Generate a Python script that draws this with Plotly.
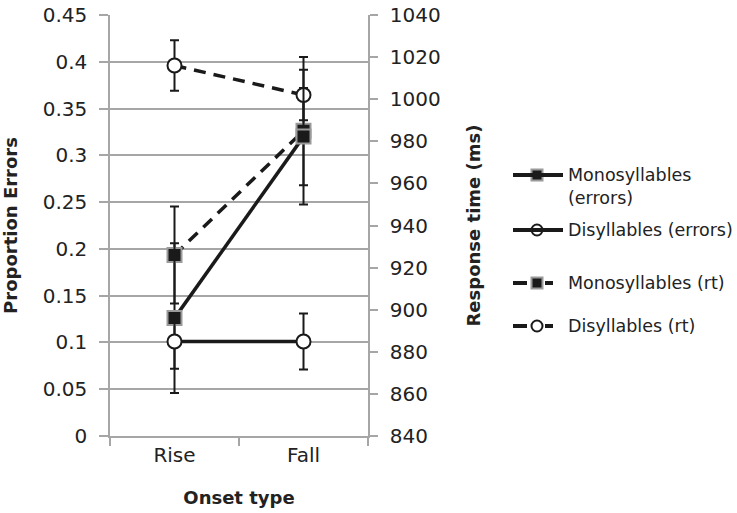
import plotly.graph_objects as go

categories = ["Rise", "Fall"]

mono_err = [0.126, 0.320]
mono_err_ci = [0.080, 0.052]
di_err = [0.101, 0.101]
di_err_ci = [0.029, 0.030]

mono_rt = [926, 985]
mono_rt_ci = [23, 35]
di_rt = [1016, 1002]
di_rt_ci = [12, 12]

legend_labels = ["Monosyllables<br>(errors)", "Disyllables (errors)", "Monosyllables (rt)", "Disyllables (rt)"]

FONT = "DejaVu Sans"
TXT = "#222222"
GRID = "#a6a6a6"
INK = "#1a1a1a"

# geometry in pixels
W, H = 737, 513
L, T, B = 110, 15, 436          # plot area left / top / bottom
R = 368                          # plot area right edge (right y axis)
PR = 727                         # paper right edge
PW = PR - L

sq_marker = dict(symbol="square", size=14, color=INK, line=dict(color="#9a9a9a", width=2))
ci_marker = dict(symbol="circle", size=14, color="white", line=dict(color=INK, width=2))

def ebar(vals):
    return dict(type="data", array=vals, visible=True, color=INK, thickness=2, width=4.5)

fig = go.Figure()

fig.add_trace(go.Scatter(x=categories, y=mono_err, name=legend_labels[0], yaxis="y2",
                         mode="lines+markers", line=dict(color=INK, width=3.5),
                         marker=sq_marker, error_y=ebar(mono_err_ci), showlegend=False))
fig.add_trace(go.Scatter(x=categories, y=di_err, name=legend_labels[1], yaxis="y2",
                         mode="lines+markers", line=dict(color=INK, width=3.5),
                         marker=ci_marker, error_y=ebar(di_err_ci), showlegend=False))
fig.add_trace(go.Scatter(x=categories, y=mono_rt, name=legend_labels[2], yaxis="y",
                         mode="lines+markers", line=dict(color=INK, width=3.5, dash="12px,8px"),
                         marker=sq_marker, error_y=ebar(mono_rt_ci), showlegend=False))
fig.add_trace(go.Scatter(x=categories, y=di_rt, name=legend_labels[3], yaxis="y",
                         mode="lines+markers", line=dict(color=INK, width=3.5, dash="12px,8px"),
                         marker=ci_marker, error_y=ebar(di_rt_ci), showlegend=False))

# ---- hand-built legend (pixel-based helper axes x3/y3 spanning the whole paper) ----
leg_y = [175, 230, 283, 326]          # pixel rows of legend symbols
leg_dashed = [False, False, True, True]
leg_square = [True, False, True, False]
SYM_X0, SYM_X1, MARK_X, TEXT_X = 513, 563, 537, 566

def px2paper_x(px):
    return (px - L) / PW

def px2paper_y(py):
    return (B - py) / (B - T)

shapes = []
for yy, dashed in zip(leg_y, leg_dashed):
    if dashed:
        segs = [(SYM_X0, MARK_X - 10), (MARK_X + 8, MARK_X + 16)]
    else:
        segs = [(SYM_X0, SYM_X1)]
    for a, b in segs:
        shapes.append(dict(type="line", xref="paper", yref="paper",
                           x0=px2paper_x(a), x1=px2paper_x(b), y0=px2paper_y(yy), y1=px2paper_y(yy),
                           line=dict(color=INK, width=4)))

for yy, sq in zip(leg_y, leg_square):
    m = dict(sq_marker) if sq else dict(ci_marker)
    m["size"] = 11
    fig.add_trace(go.Scatter(x=[MARK_X], y=[yy], xaxis="x3", yaxis="y3", mode="markers",
                             marker=m, cliponaxis=False, showlegend=False, hoverinfo="skip"))

annotations = []
for yy, lab in zip(leg_y, legend_labels):
    annotations.append(dict(x=px2paper_x(TEXT_X), y=px2paper_y(yy - 12), xref="paper", yref="paper",
                            text=lab, showarrow=False, xanchor="left", yanchor="top", align="left",
                            font=dict(family=FONT, size=17.5, color=TXT)))

TICKF = dict(family=FONT, size=20, color=TXT)
TITLEF = dict(family=FONT, size=18, color=TXT)

fig.update_layout(
    width=W, height=H,
    margin=dict(l=L, r=W - PR, t=T, b=H - B, autoexpand=False),
    paper_bgcolor="white", plot_bgcolor="rgba(0,0,0,0)",
    font=dict(family=FONT, color=TXT),
    showlegend=False,
    shapes=shapes,
    annotations=annotations,
    xaxis=dict(domain=[0, (R - L) / PW], type="category", range=[-0.5, 1.5], tickson="boundaries",
               ticks="outside", ticklen=8, tickcolor=GRID, tickwidth=1.5, showline=True, linecolor=GRID,
               linewidth=1.5, showgrid=False, tickfont=TICKF,
               title=dict(text="<b>Onset type</b>", font=TITLEF, standoff=26)),
    yaxis=dict(side="right", range=[840, 1040], dtick=20, tick0=840, ticks="outside", ticklen=8,
               tickcolor=GRID, tickwidth=1.5, showline=True, linecolor=GRID, linewidth=1.5,
               showgrid=False, zeroline=False, tickfont=TICKF, ticklabelstandoff=8,
               title=dict(text="<b>Response time (ms)</b>", font=TITLEF, standoff=28)),
    yaxis2=dict(side="left", overlaying="y", range=[0, 0.45], dtick=0.05, tick0=0, ticks="outside", ticklen=9,
                tickcolor=GRID, tickwidth=1.5, showline=True, linecolor=GRID, linewidth=1.5,
                showgrid=True, gridcolor=GRID, gridwidth=1.5, zeroline=False,
                tickfont=TICKF, ticklabelstandoff=8,
                title=dict(text="<b>Proportion Errors</b>", font=TITLEF, standoff=20)),
    xaxis3=dict(domain=[0, 1], anchor="y3", range=[L, PR], visible=False, fixedrange=True),
    yaxis3=dict(anchor="x3", range=[B, T], visible=False, fixedrange=True),
)

fig.write_html("out.html")
